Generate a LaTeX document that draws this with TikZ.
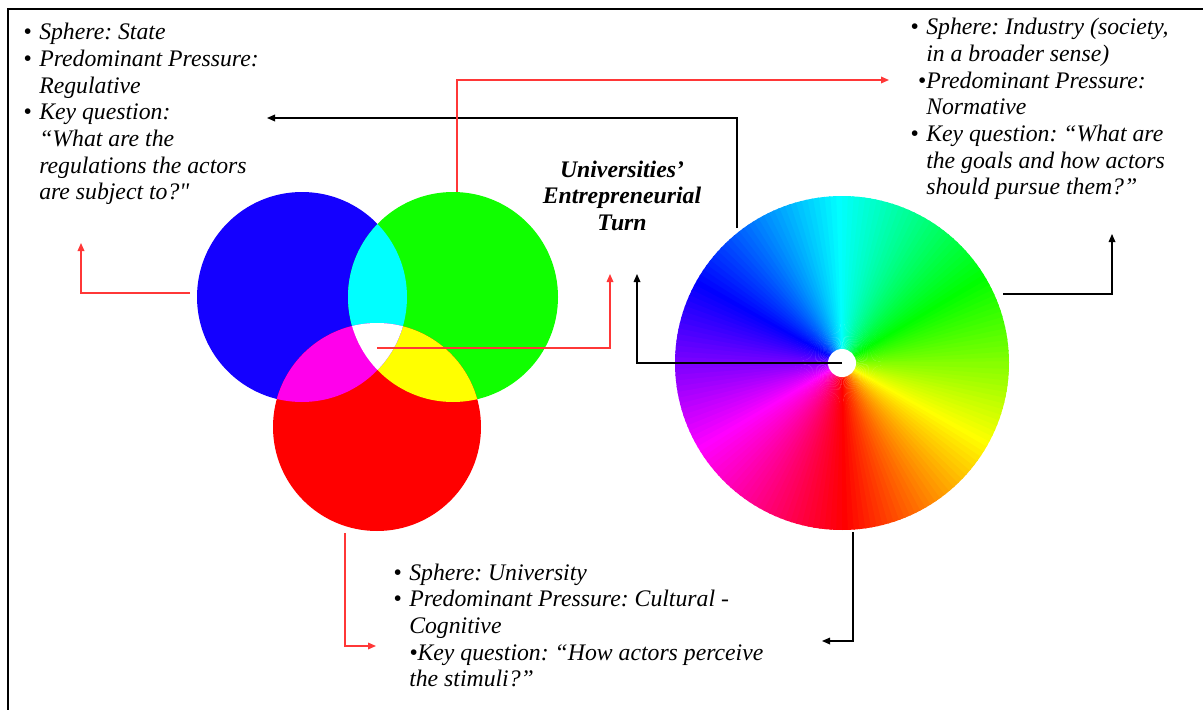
\documentclass[tikz,border=0pt]{standalone}
\usepackage{fontspec}
\setmainfont{Liberation Serif}
\usetikzlibrary{arrows.meta}
\definecolor{vblue}{RGB}{20,0,255}
\definecolor{vgreen}{RGB}{16,255,0}
\definecolor{vred}{RGB}{255,0,0}
\definecolor{vcyan}{RGB}{0,255,255}
\definecolor{vmag}{RGB}{255,0,235}
\definecolor{vyel}{RGB}{255,255,0}
\definecolor{lred}{RGB}{255,55,55}
\newcommand\bul{\makebox[12pt][l]{\textbullet}}
\newcommand\sqq{\XeTeXglyph\XeTeXcharglyph"22\relax}
\newcommand\txtfont{\fontsize{17.8}{20}\selectfont\itshape\frenchspacing}
\begin{document}
\begin{tikzpicture}[x=0.75pt,y=-0.75pt,
  txt/.style={anchor=base west,inner sep=0pt,font=\txtfont},
  ttl/.style={anchor=base,inner sep=0pt,font=\fontsize{17.8}{20}\selectfont\bfseries\itshape},
  disc/.style={circle,inner sep=0pt,minimum size=#1,draw=none},
  redcon/.style={draw=lred,line width=0.9pt,-{Triangle[length=6pt,width=5pt]}},
  blkcon/.style={draw=black,line width=0.9pt,-{Triangle[length=6pt,width=5pt]}},
  frame/.style={line width=1.5pt}]
\useasboundingbox (0,0) rectangle (1203,710);

% frame
\coordinate (fa) at (8,710);
\coordinate (fb) at (8,9);
\coordinate (fc) at (1203,9);
\draw[frame] (fa) -- (fb) -- (fc);

% Venn diagram
\node[disc=157.5pt,fill=vblue] (blue) at (302,297) {};
\node[disc=157.5pt,fill=vgreen] (green) at (453,297) {};
\node[disc=156pt,fill=vred] (red) at (377,427) {};
\begin{scope}
  \clip (green.center) circle (78.75pt);
  \fill[vyel] (red.center) circle (78pt);
\end{scope}
\begin{scope}
  \clip (blue.center) circle (78.75pt);
  \fill[vcyan] (green.center) circle (78.75pt);
  \fill[vmag] (red.center) circle (78pt);
  \clip (green.center) circle (78.75pt);
  \fill[white] (red.center) circle (78pt);
\end{scope}

% colour wheel
\coordinate (W) at (842,363);
\foreach \a in {0,2,...,358} {
  \pgfmathtruncatemacro\h{mod(\a+90,360)}
  \definecolor{wc}{Hsb}{\h,1,1}
  \fill[wc] (W) -- +(\a:125.25pt) arc[start angle=\a,end angle=\a+2.6,radius=125.25pt] -- cycle;
}
\node[disc=21pt,fill=white] (hole) at (W) {};

% texts
\node[txt] (state) at (23,40) {\begin{tabular}[t]{@{}l@{}l@{}}
\bul & Sphere: State\\
\bul & Predominant Pressure:\\
 & Regulative\\
\bul & Key question:\\
 & “What are the\\
 & regulations the actors\\
 & are subject to?\sqq
\end{tabular}};

\node[txt] (industry) at (910,35) {\begin{tabular}[t]{@{}l@{}l@{}}
\bul & Sphere: Industry (society,\\
 & in a broader sense)\\
 & \llap{\textbullet}Predominant Pressure:\\
 & Normative\\
\bul & Key question: “What are\\
 & the goals and how actors\\
 & should pursue them?”
\end{tabular}};

\node[txt] (univ) at (393,580) {\begin{tabular}[t]{@{}l@{}l@{}}
\bul & Sphere: University\\
\bul & Predominant Pressure: Cultural -\\
 & Cognitive\\
 & \textbullet Key question: “How actors perceive\\
 & the stimuli?”
\end{tabular}};

\node[ttl] (title) at (622,177) {\begin{tabular}[t]{@{}c@{}}Universities’\\Entrepreneurial\\Turn\end{tabular}};

% connector end points
\coordinate (c1s) at (190,293);  \coordinate (c1t) at (81,243);
\coordinate (c2s) at (345,533);  \coordinate (c2t) at (376,646);
\coordinate (c3s) at (853,532);  \coordinate (c3t) at (822,641);
\coordinate (c4s) at (1003,294); \coordinate (c4t) at (1112,234);
\coordinate (c5s) at (737,228);  \coordinate (c5t) at (267,118);
\coordinate (c6s) at (457,192);  \coordinate (c6t) at (889,80);
\coordinate (c7s) at (377,348);  \coordinate (c7t) at (610,274);
\coordinate (c8t) at (637,274);

\draw[redcon] (c1s) -| (c1t);
\draw[redcon] (c2s) |- (c2t);
\draw[blkcon] (c3s) |- (c3t);
\draw[blkcon] (c4s) -| (c4t);
\draw[blkcon] (c5s) |- (c5t);
\draw[redcon] (c6s) |- (c6t);
\draw[redcon] (c7s) -| (c7t);
\draw[blkcon] (hole.center) -| (c8t);
\end{tikzpicture}
\end{document}
